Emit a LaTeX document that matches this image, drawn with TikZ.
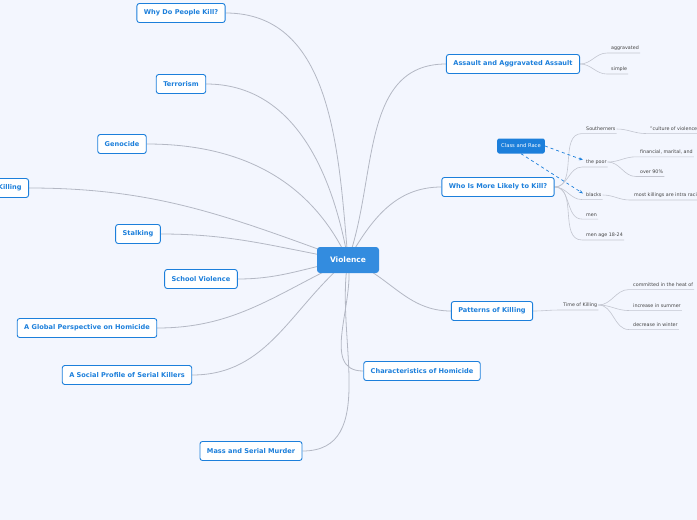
\documentclass[tikz,border=0pt]{standalone}
\usepackage{fontspec}
\setmainfont{DejaVu Sans}
\usetikzlibrary{backgrounds,arrows.meta}
\definecolor{bg}{HTML}{F3F6FE}
\definecolor{tb}{HTML}{1C7FDB}
\definecolor{ln}{HTML}{B4B8C4}
\definecolor{tx}{HTML}{444444}
\begin{document}
\begin{tikzpicture}[x=1pt,y=-1pt,
 topic/.style={draw=tb,line width=0.9pt,fill=white,rounded corners=2.5pt,text=tb,font=\fontsize{6.6}{7}\selectfont\bfseries,minimum height=19,inner xsep=7},
 central/.style={fill=tb!90,rounded corners=3pt,text=white,font=\fontsize{7.5}{9}\selectfont\bfseries,minimum width=62,minimum height=26},
 sub/.style={anchor=west,text=tx,font=\fontsize{4.8}{6}\selectfont,inner xsep=1,inner ysep=2.5},
 conn/.style={draw=ln,line width=0.8pt},
 br/.style={draw=ln!80,line width=0.6pt}]
\useasboundingbox (0,0) rectangle (697,520);
\node[central] (v) at (348,260) {Violence};
\node[topic] (why) at (181,13) {Why Do People Kill?};
\node[topic] (ter) at (181,84) {Terrorism};
\node[topic] (gen) at (122,144) {Genocide};
\node[topic,anchor=east] (kil) at (29,188) {Killing};
\node[topic] (sta) at (138,234) {Stalking};
\node[topic] (sch) at (201,279) {School Violence};
\node[topic] (glo) at (87,328) {A Global Perspective on Homicide};
\node[topic] (soc) at (127,375) {A Social Profile of Serial Killers};
\node[topic] (mas) at (251,451) {Mass and Serial Murder};
\node[topic] (cha) at (422,371) {Characteristics of Homicide};
\node[topic] (pat) at (492,311) {Patterns of Killing};
\node[topic] (who) at (498,187) {Who Is More Likely to Kill?};
\node[topic] (ass) at (513,64) {Assault and Aggravated Assault};
\node[fill=tb,rounded corners=2pt,text=white,font=\fontsize{5.2}{6}\selectfont,minimum height=15,inner xsep=4] (cr) at (521,146) {Class and Race};
% subtopics
\node[sub] (agg) at (610,48) {aggravated};
\node[sub] (sim) at (610,69) {simple};
\node[sub] (sou) at (585,129) {Southerners};
\node[sub] (cul) at (649,129) {"culture of violence"};
\node[sub] (poo) at (585,162) {the poor};
\node[sub] (fin) at (639,152) {financial, marital, and};
\node[sub] (o90) at (639,172) {over 90\%};
\node[sub] (bla) at (585,195) {blacks};
\node[sub] (mos) at (633,195) {most killings are intra racial};
\node[sub] (men) at (585,215) {men};
\node[sub] (mag) at (585,235) {men age 18-24};
\node[sub] (tim) at (562,305) {Time of Killing};
\node[sub] (com) at (632,285) {committed in the heat of};
\node[sub] (inc) at (632,306) {increase in summer};
\node[sub] (dec) at (632,325) {decrease in winter};
\begin{scope}[on background layer]
\fill[bg] (0,0) rectangle (697,520);
\foreach \n/\o in {why/95,ter/100,gen/115,kil/160,sta/170,sch/190,glo/205,soc/220,mas/260}
  \draw[conn] (v.center) to[out=\o,in=0] (\n.east);
\foreach \n/\o in {ass/70,who/60,pat/-20,cha/-80}
  \draw[conn] (v.center) to[out=\o,in=180] (\n.west);
\foreach \p/\c in {ass/agg,ass/sim,who/sou,who/poo,who/bla,who/men,who/mag,poo/fin,poo/o90,sou/cul,bla/mos,pat/tim,tim/com,tim/inc,tim/dec}
  \draw[br] (\p.east) to[out=0,in=180] ([xshift=-3]\c.south west) -- (\c.south east);
\end{scope}
\draw[tb,dashed,line width=0.7pt,-{Stealth[length=4pt]}] (cr.east) -- ([xshift=-2,yshift=-3]poo.north west);
\draw[tb,dashed,line width=0.7pt,-{Stealth[length=4pt]}] (cr.south) -- ([xshift=-2,yshift=-3]bla.north west);
\end{tikzpicture}
\end{document}
